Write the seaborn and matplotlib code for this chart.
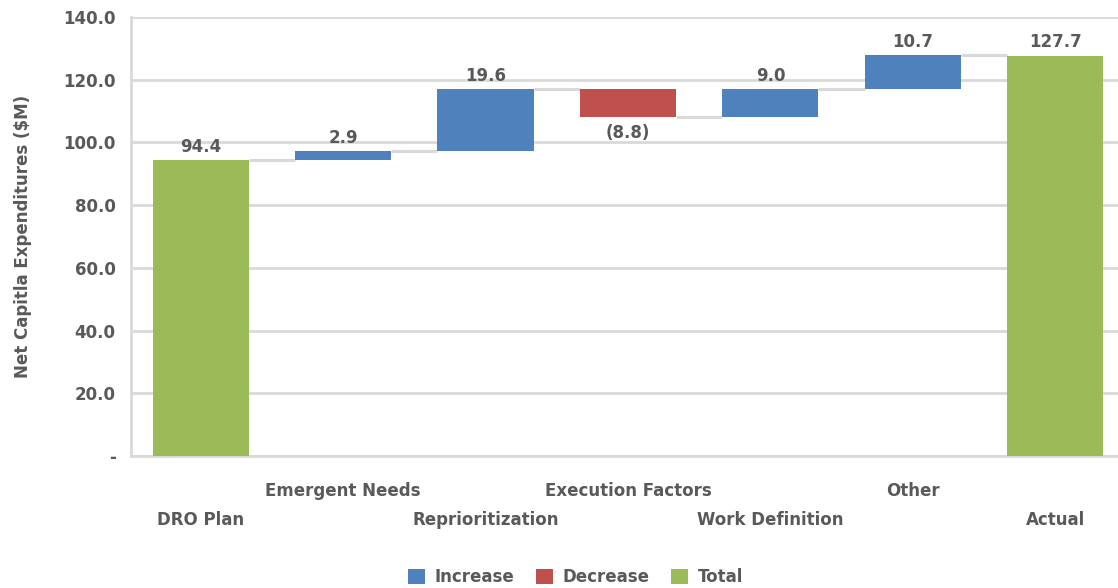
import matplotlib
matplotlib.use("Agg")
import matplotlib.pyplot as plt
from matplotlib.patches import Patch
import pandas as pd
import seaborn as sns

# Waterfall of net capital expenditures, plan to actual ($M)
categories = ["DRO Plan", "Emergent Needs", "Reprioritization", "Execution Factors",
              "Work Definition", "Other", "Actual"]
changes = [94.4, 2.9, 19.6, -8.8, 9.0, 10.7, 127.7]
kinds = ["Total", "Increase", "Increase", "Decrease", "Increase", "Increase", "Total"]
value_labels = ["94.4", "2.9", "19.6", "(8.8)", "9.0", "10.7", "127.7"]
y_ticks = [0, 20, 40, 60, 80, 100, 120, 140]
y_tick_labels = ["-", "20.0", "40.0", "60.0", "80.0", "100.0", "120.0", "140.0"]

palette = {"Increase": "#4F81BD", "Decrease": "#C0504D", "Total": "#9BBB59"}
text_color = "#595959"
grid_color = "#D9D9D9"
fs = 12

# floating bar extents
bottoms, tops, levels = [], [], []
running = 0.0
for val, kind in zip(changes, kinds):
    if kind == "Total":
        b, t = 0.0, val
        running = val
    else:
        b, t = running, running + val
        running = t
    bottoms.append(min(b, t))
    tops.append(max(b, t))
    levels.append(running)

df = pd.DataFrame({"category": categories, "kind": kinds,
                   "bottom": bottoms, "top": tops})
df["height"] = df["top"] - df["bottom"]

sns.set_style("white")
plt.rcParams["font.family"] = ["DejaVu Sans"]
plt.rcParams["font.weight"] = "bold"

fig = plt.figure(figsize=(11.18, 5.88), dpi=100)
ax = fig.add_axes([0.117, 0.2245, 0.883, 0.7465])

bar_width = 0.675
for _, row in df.iterrows():
    sns.barplot(x=[row["category"]], y=[row["height"]], bottom=row["bottom"],
                order=categories, color=palette[row["kind"]], width=bar_width,
                saturation=1, errorbar=None, ax=ax, zorder=3, linewidth=0)

# connectors between consecutive bars at the running level
for i in range(len(categories) - 1):
    ax.plot([i + bar_width / 2, i + 1 - bar_width / 2], [levels[i], levels[i]],
            color=grid_color, lw=2.2, zorder=2, solid_capstyle="butt")

# value labels
for i, (lab, val) in enumerate(zip(value_labels, changes)):
    if val >= 0:
        ax.annotate(lab, (i, df["top"][i]), xytext=(0, 3), textcoords="offset points",
                    ha="center", va="bottom", fontsize=fs, color=text_color,
                    fontweight="bold")
    else:
        ax.annotate(lab, (i, df["bottom"][i]), xytext=(0, -5), textcoords="offset points",
                    ha="center", va="top", fontsize=fs, color=text_color,
                    fontweight="bold")

ax.set_ylim(0, 140)
ax.set_xlim(-0.49, 6.44)
ax.set_yticks(y_ticks)
ax.set_yticklabels(y_tick_labels)
ax.yaxis.grid(True, color=grid_color, lw=2)
ax.set_axisbelow(True)

# staggered category labels
ax.set_xticks(range(len(categories)))
ax.set_xticklabels([c if i % 2 else "\n" + c for i, c in enumerate(categories)],
                   linespacing=1.74)
ax.tick_params(axis="x", length=0, pad=19, labelsize=fs, labelcolor=text_color)
ax.tick_params(axis="y", length=0, pad=11, labelsize=fs, labelcolor=text_color)
for lab in ax.get_xticklabels() + ax.get_yticklabels():
    lab.set_fontweight("bold")

ax.set_xlabel("")
ax.set_ylabel("Net Capitla Expenditures ($M)", fontsize=12, color=text_color,
              fontweight="bold", labelpad=22)

for side in ["top", "right"]:
    ax.spines[side].set_visible(False)
for side in ["left", "bottom"]:
    ax.spines[side].set_color(grid_color)
    ax.spines[side].set_linewidth(2)

handles = [Patch(facecolor=palette[k], edgecolor="none", label=k)
           for k in ["Increase", "Decrease", "Total"]]
leg = fig.legend(handles=handles, loc="lower center", ncol=3,
                 bbox_to_anchor=(0.515, -0.022), frameon=False,
                 handlelength=1.0, handleheight=1.0, handletextpad=0.6,
                 columnspacing=1.3, prop={"size": fs, "weight": "bold"})
for t in leg.get_texts():
    t.set_color(text_color)

fig.savefig("out.png", dpi=100)
